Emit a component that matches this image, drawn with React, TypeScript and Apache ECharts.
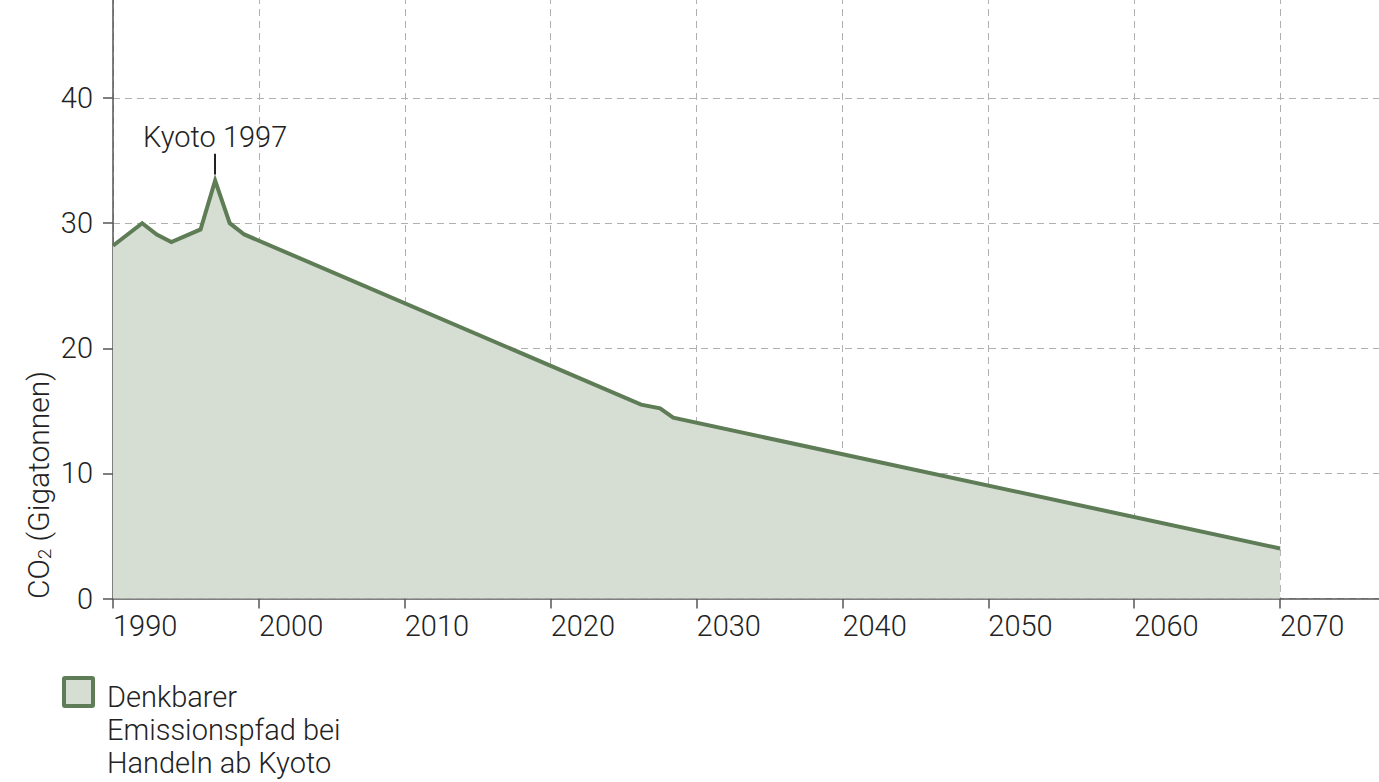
import React, { useEffect, useRef } from "react";
import * as echarts from "echarts";

const years = [1990, 1992, 1993, 1994, 1996, 1997, 1998, 1999, 2026.2, 2027.5, 2028.4, 2070];
const emissions = [28.2, 30.0, 29.1, 28.5, 29.5, 33.4, 30.0, 29.1, 15.5, 15.2, 14.45, 4.0];
const seriesName = "Denkbarer Emissionspfad bei Handeln ab Kyoto";
const legendLines = ["Denkbarer", "Emissionspfad bei", "Handeln ab Kyoto"];
const kyotoYear = 1997;
const kyotoMarker = [33.9, 35.55];
const kyotoLabel = "Kyoto 1997";

const FONT = "'Roboto Light', Roboto, sans-serif";
const FS = 29;
const LINE = "#5e7c56";
const FILL = "#d6ded4";
const TEXT = "#222222";
const AXIS = "#555555";
const GRID = "#b0b0b0";
const OY = 27; // chart is shifted up so the 50 tick sits above the page
const EXTRA_W = 47; // chart extends to the right so the 2080 tick is off page

export default function App() {
  const ref = useRef<HTMLDivElement>(null);
  useEffect(() => {
    if (!ref.current) return;
    const chart = echarts.init(ref.current, null, { renderer: "svg" });
    const data = years.map((y, i) => [y, emissions[i]]);
    chart.setOption({
      animation: false,
      textStyle: { fontFamily: FONT, fontWeight: 300 },
      grid: {
        left: 113,
        right: 0,
        top: 0,
        bottom: 183.5,
        containLabel: false,
        outerBoundsMode: "none",
      },
      xAxis: {
        type: "value",
        min: 1990,
        max: 2080,
        interval: 10,
        axisLine: { show: true, lineStyle: { color: AXIS, width: 1.5 } },
        axisTick: { show: true, length: 10, lineStyle: { color: AXIS, width: 1.5 } },
        axisLabel: {
          margin: 13,
          align: "left",
          fontSize: FS,
          fontFamily: FONT,
          fontWeight: 300,
          color: TEXT,
          formatter: (v: number) => (v >= 2080 ? "" : String(v)),
        },
        splitLine: { show: true, lineStyle: { color: GRID, type: [7, 5], width: 1 } },
      },
      yAxis: {
        type: "value",
        min: 0,
        max: 50,
        interval: 10,
        axisLine: { show: true, lineStyle: { color: AXIS, width: 1.5 } },
        axisTick: { show: true, length: 10, lineStyle: { color: AXIS, width: 1.5 } },
        axisLabel: {
          margin: 20,
          fontSize: FS,
          fontFamily: FONT,
          fontWeight: 300,
          color: TEXT,
          formatter: (v: number) => (v >= 50 ? "" : String(v)),
        },
        splitLine: { show: true, lineStyle: { color: GRID, type: [7, 5], width: 1 } },
      },
      graphic: [
        {
          type: "text",
          x: 38,
          y: 485 + OY,
          rotation: Math.PI / 2,
          style: {
            text: "{a|CO}{b|2}{a| (Gigatonnen)}",
            align: "center",
            verticalAlign: "middle",
            fill: TEXT,
            rich: {
              a: { fontSize: 30, fontFamily: FONT, fontWeight: 300, fill: TEXT, lineHeight: 34 },
              b: { fontSize: 19, fontFamily: FONT, fontWeight: 300, fill: TEXT, lineHeight: 34, padding: [12, 0, 0, 0] },
            },
          },
        },
        {
          type: "rect",
          shape: { x: 64, y: 678 + OY, width: 29, height: 28, r: 1 },
          style: { fill: FILL, stroke: LINE, lineWidth: 4 },
        },
        {
          type: "text",
          x: 107,
          y: 680.5 + OY,
          style: {
            text: legendLines.join("\n"),
            fontSize: FS,
            fontFamily: FONT,
            fontWeight: 300,
            fill: TEXT,
            lineHeight: 33,
            align: "left",
            verticalAlign: "top",
          },
        },
      ],
      series: [
        {
          name: seriesName,
          type: "line",
          data,
          showSymbol: false,
          symbol: "none",
          lineStyle: { color: LINE, width: 4, join: "miter" },
          itemStyle: { color: LINE },
          areaStyle: { color: FILL, opacity: 1 },
          markLine: {
            silent: true,
            symbol: ["none", "none"],
            lineStyle: { color: TEXT, width: 2, type: "solid" },
            label: {
              show: true,
              position: "end",
              distance: 3,
              formatter: kyotoLabel,
              fontSize: FS,
              fontFamily: FONT,
              fontWeight: 300,
              color: TEXT,
              lineHeight: 28,
            },
            data: [
              [
                { coord: [kyotoYear, kyotoMarker[0]] },
                { coord: [kyotoYear, kyotoMarker[1]] },
              ],
            ],
          },
        },
      ],
    });
    return () => chart.dispose();
  }, []);
  return (
    <div
      style={{ position: "absolute", left: 0, top: 0, width: 1379, height: 782, overflow: "hidden" }}
    >
      <div
        ref={ref}
        style={{ position: "absolute", left: 0, top: -OY, width: 1379 + EXTRA_W, height: 782 + OY }}
      />
    </div>
  );
}
